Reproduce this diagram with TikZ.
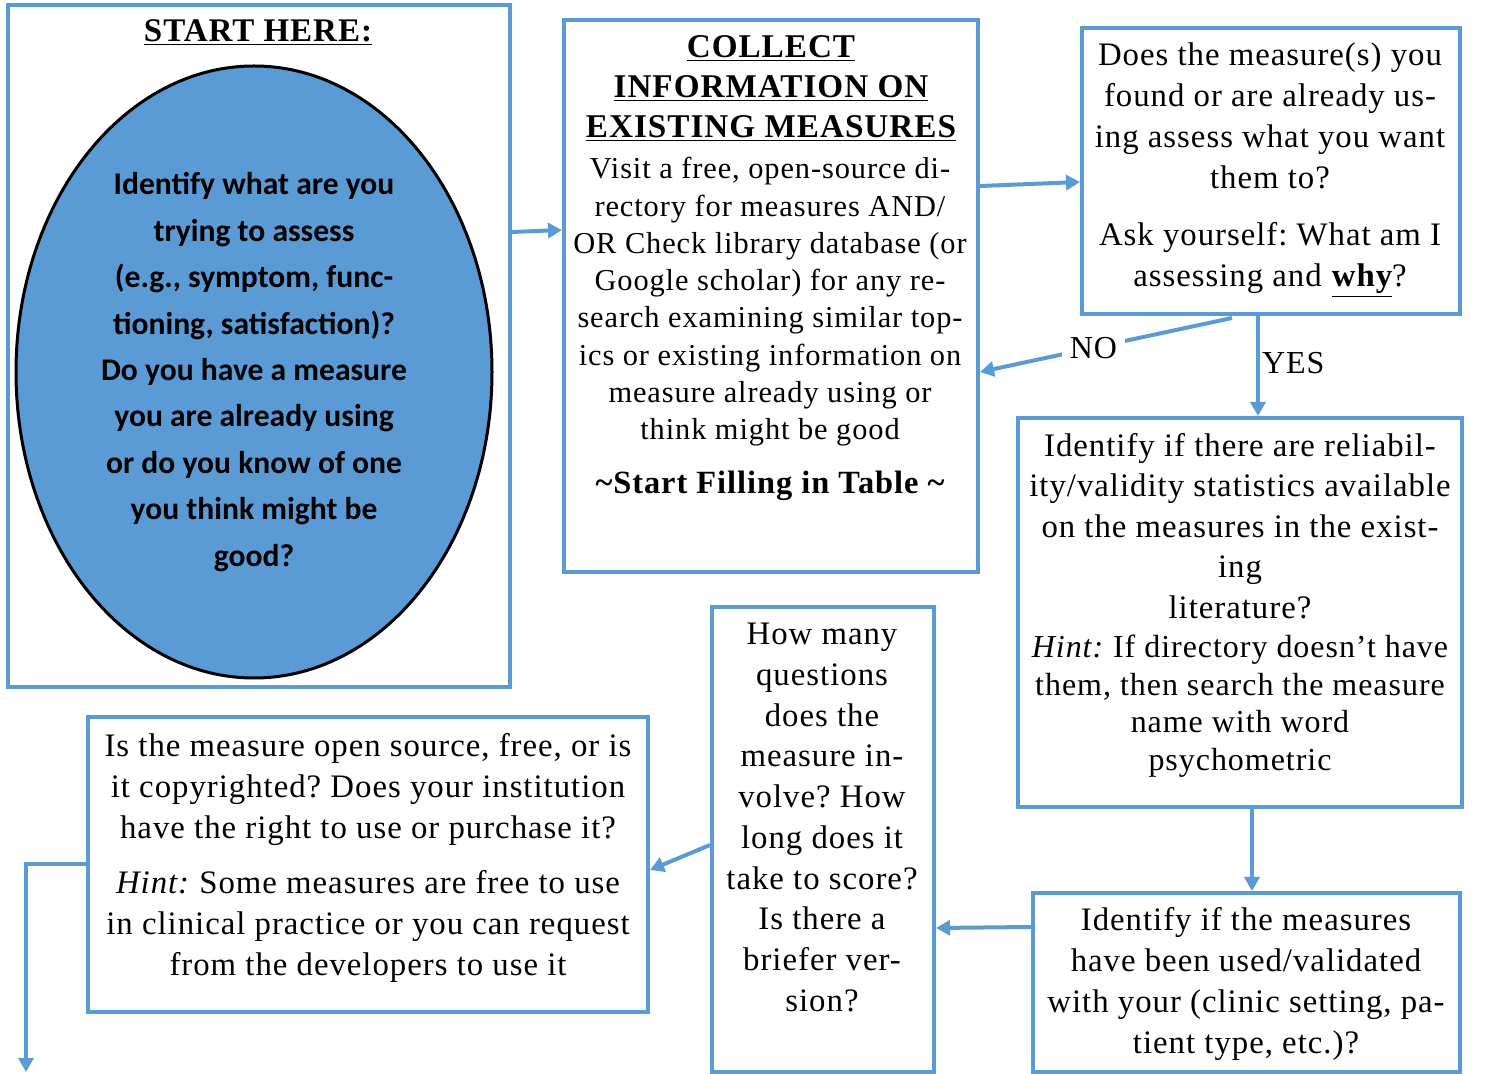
\documentclass[tikz,border=0pt]{standalone}
\usepackage{fontspec}
\setmainfont{Liberation Serif}[LetterSpace=3]
\newfontfamily\calib{Carlito}
\usetikzlibrary{arrows.meta,shapes.geometric}
\definecolor{myblue}{RGB}{91,155,213}
\frenchspacing
\tikzset{
  box/.style={draw=myblue, line width=2pt, inner sep=0pt},
  arr/.style={draw=myblue, line width=2pt, -{Triangle[length=7pt,width=7.5pt]}},
  txt/.style={align=center, inner sep=0pt, anchor=north},
}
\begin{document}
\frenchspacing
\begin{tikzpicture}[x=0.5pt,y=-0.5pt]
\useasboundingbox (0,0) rectangle (1501,1074);
% boxes
\node[box, minimum width=251pt, minimum height=341pt] (A) at (259,346) {};
\node[box, minimum width=207pt, minimum height=276pt] (B) at (771,296) {};
\node[box, minimum width=189pt, minimum height=143pt] (C) at (1271,171) {};
\node[box, minimum width=222pt, minimum height=194.5pt] (D) at (1240,612.5) {};
\node[box, minimum width=213.5pt, minimum height=89.5pt] (E) at (1246.5,982.5) {};
\node[box, minimum width=111pt, minimum height=232.5pt] (F) at (823,839.5) {};
\node[box, minimum width=280pt, minimum height=147.5pt] (G) at (368,864.5) {};
% start here
\node[txt, font={\fontsize{16.5}{18}\selectfont\bfseries}] (Ahead) at (258,19) {\underline{START HERE:}};
\node[ellipse, draw=black, line width=1.5pt, fill=myblue, minimum width=238pt, minimum height=306pt, inner sep=0pt,
      align=center, font={\calib\fontsize{15.8}{23.2}\selectfont\bfseries}] (ell) at (254,372)
  {Identify what are you\\trying to assess\\(e.g., symptom, func-\\tioning, satisfaction)?\\Do you have a measure\\you are already using\\or do you know of one\\you think might be\\good?};
% box B text
\node[txt, font={\fontsize{16.6}{20}\selectfont\bfseries}] (Btitle) at (771,35)
  {\underline{COLLECT}\\\underline{INFORMATION ON}\\\underline{EXISTING MEASURES}};
\node[txt, font={\fontsize{15.2}{18.65}\selectfont}] (Bbody) at (770,157)
  {Visit a free, open-source di-\\rectory for measures AND/\\OR Check library database (or\\Google scholar) for any re-\\search examining similar top-\\ics or existing information on\\measure already using or\\think might be good};
\node[txt, font={\fontsize{16.2}{18}\selectfont\bfseries}] (Bfoot) at (770,471) {\textasciitilde Start Filling in Table \textasciitilde};
% box C text
\node[txt, font={\fontsize{16.4}{20.5}\selectfont}] (Ctext) at (1270,42)
  {Does the measure(s) you\\found or are already us-\\ing assess what you want\\them to?\\[8pt]Ask yourself: What am I\\assessing and \textbf{\underline{why}}?};
% box D text
\node[txt, font={\fontsize{16.4}{20.25}\selectfont}] (Dtext) at (1240,433)
  {Identify if there are reliabil-\\ity/validity statistics available\\on the measures in the exist-\\ing\\literature?};
\node[txt, font={\fontsize{16}{18.75}\selectfont}] (Dhint) at (1240,635)
  {\textit{Hint:} If directory doesn't have\\them, then search the measure\\name with word\\psychometric};
% box E text
\node[txt, font={\fontsize{16.4}{20.5}\selectfont}] (Etext) at (1246,907)
  {Identify if the measures\\have been used/validated\\with your (clinic setting, pa-\\tient type, etc.)?};
% box F text
\node[txt, font={\fontsize{16.4}{20.35}\selectfont}] (Ftext) at (822,623)
  {How many\\questions\\does the\\measure in-\\volve? How\\long does it\\take to score?\\Is there a\\briefer ver-\\sion?};
% box G text
\node[txt, font={\fontsize{16.4}{20.5}\selectfont}] (Gtext) at (368,733)
  {Is the measure open source, free, or is\\it copyrighted? Does your institution\\have the right to use or purchase it?\\[7pt]\textit{Hint:} Some measures are free to use\\in clinical practice or you can request\\from the developers to use it};
% connectors
\draw[arr] (A.east |- 0,232) -- (B.west |- 0,230);
\draw[arr] (B.east |- 0,186) -- (C.west |- 0,182);
\draw[arr] (1232,318) -- node[pos=0.55, fill=white, inner sep=4pt, font={\fontsize{16}{18}\selectfont}] (no) {NO} (B.east |- 0,372);
\draw[arr] (C.south -| 1258,0) -- node[right=1pt, pos=0.47, font={\fontsize{16}{18}\selectfont}, inner sep=0pt] (yes) {YES} (D.north -| 1258,0);
\draw[arr] (D.south -| 1252,0) -- (E.north -| 1252,0);
\draw[arr] (E.west |- 0,927) -- (F.east |- 0,928);
\draw[arr] (F.west |- 0,845) -- (G.east |- 0,870);
\coordinate (gend) at (26,1072);
\draw[arr] (G.west |- 0,864) -- (gend |- 0,864) -- (gend);
\end{tikzpicture}
\end{document}
